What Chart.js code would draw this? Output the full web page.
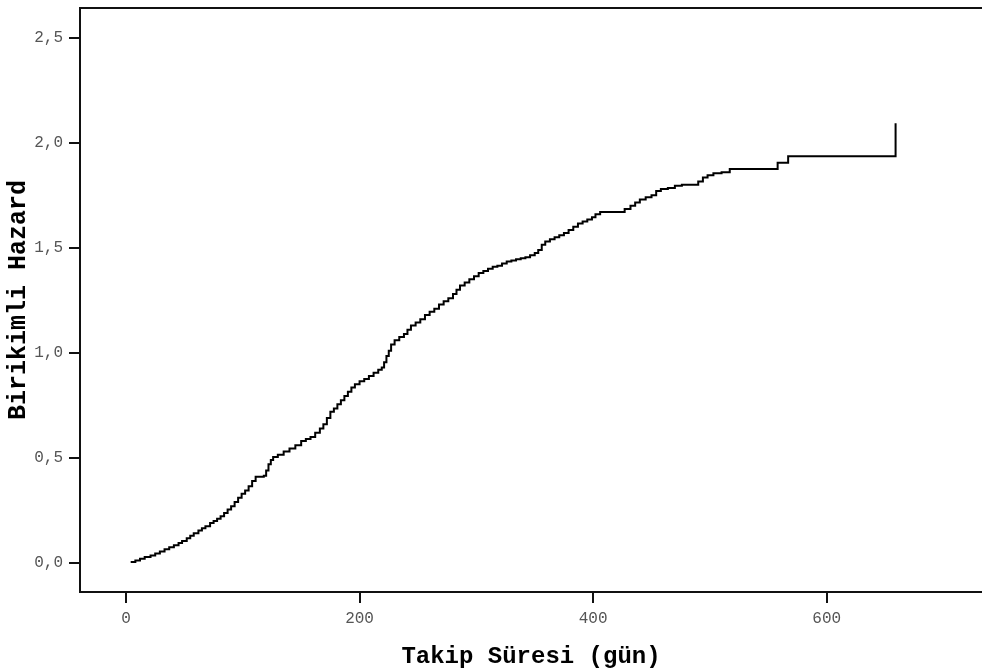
<!DOCTYPE html>
<html>
<head>
<meta charset="utf-8">
<script src="https://cdn.jsdelivr.net/npm/chart.js@4"></script>
<style>
    html, body { margin: 0; padding: 0; background: #fff; }
    #wrap { width: 982px; height: 669px; position: relative; }
</style>
</head>
<body>
<div id="wrap"><canvas id="hazardChart"></canvas></div>
<script>
// Cumulative hazard estimate: event day and hazard value after that day
const days = [
    4, 8, 12, 16, 21, 25, 29, 33, 37, 41, 45, 48, 52, 55, 58, 62, 65, 68, 72, 75,
    78, 81, 84, 87, 90, 93, 96, 99, 102, 105, 108, 111, 118, 120, 122, 124, 126, 130, 135, 140,
    145, 150, 154, 158, 162, 166, 169, 172, 175, 178, 181, 184, 187, 190, 193, 196, 200, 204, 208, 212,
    216, 219, 221, 223, 225, 227, 230, 234, 238, 241, 244, 248, 252, 256, 260, 264, 268, 272, 276, 280,
    283, 286, 290, 294, 298, 302, 306, 310, 314, 318, 322, 326, 330, 334, 338, 342, 346, 350, 353, 356,
    359, 363, 367, 371, 375, 379, 383, 387, 391, 395, 399, 402, 406, 427, 432, 436, 440, 445, 450, 454,
    458, 464, 470, 476, 490, 494, 498, 503, 510, 517, 558, 567, 659
];
const hazard = [
    0.005, 0.012, 0.020, 0.028, 0.036, 0.045, 0.055, 0.066, 0.075, 0.085, 0.095, 0.105, 0.118, 0.130, 0.142, 0.155, 0.165, 0.175, 0.190, 0.200,
    0.210, 0.222, 0.238, 0.255, 0.270, 0.290, 0.310, 0.330, 0.345, 0.365, 0.390, 0.410, 0.415, 0.440, 0.470, 0.490, 0.505, 0.515, 0.530, 0.545,
    0.560, 0.580, 0.590, 0.600, 0.620, 0.640, 0.660, 0.690, 0.720, 0.735, 0.755, 0.775, 0.795, 0.815, 0.835, 0.850, 0.865, 0.875, 0.890, 0.905,
    0.920, 0.930, 0.955, 0.985, 1.010, 1.040, 1.060, 1.075, 1.090, 1.110, 1.130, 1.145, 1.160, 1.180, 1.195, 1.210, 1.230, 1.245, 1.260, 1.280,
    1.300, 1.320, 1.335, 1.350, 1.365, 1.380, 1.390, 1.400, 1.410, 1.415, 1.425, 1.435, 1.440, 1.445, 1.450, 1.455, 1.465, 1.475, 1.490, 1.515,
    1.530, 1.540, 1.550, 1.560, 1.570, 1.585, 1.600, 1.615, 1.625, 1.635, 1.645, 1.660, 1.670, 1.685, 1.700, 1.715, 1.730, 1.740, 1.750, 1.770,
    1.780, 1.785, 1.795, 1.800, 1.815, 1.835, 1.845, 1.855, 1.860, 1.875, 1.905, 1.936, 2.092
];

const xTicks = [0, 200, 400, 600];
const yTicks = [0, 0.5, 1.0, 1.5, 2.0, 2.5];
const xTitle = 'Takip Süresi (gün)';
const yTitle = 'Birikimli Hazard';

const tickFont = { family: "'Liberation Mono', 'DejaVu Sans Mono', monospace", size: 16 };
const titleFont = { family: "'Liberation Mono', 'DejaVu Sans Mono', monospace", size: 24, weight: 'bold', lineHeight: 1 };

// top edge of the plot frame (the axes only draw left and bottom)
const frameTop = {
    id: 'frameTop',
    afterDraw(chart) {
        const { ctx, chartArea } = chart;
        ctx.save();
        ctx.strokeStyle = '#111';
        ctx.lineWidth = 2;
        ctx.beginPath();
        ctx.moveTo(chartArea.left - 1, chartArea.top);
        ctx.lineTo(chartArea.right, chartArea.top);
        ctx.stroke();
        ctx.restore();
    }
};

new Chart(document.getElementById('hazardChart'), {
    type: 'line',
    data: {
        datasets: [{
            data: days.map((d, i) => ({ x: d, y: hazard[i] })),
            stepped: true,
            borderColor: '#000',
            borderWidth: 2,
            pointRadius: 0,
            fill: false
        }]
    },
    options: {
        responsive: true,
        maintainAspectRatio: false,
        animation: false,
        layout: { padding: { top: 8, right: 0, bottom: 0, left: 0 } },
        plugins: {
            legend: { display: false },
            tooltip: { enabled: false }
        },
        scales: {
            x: {
                type: 'linear',
                min: -39.4,
                max: 733,
                afterFit: function(scale) {
                    scale.height = 77;
                    scale.paddingLeft = 0;
                    scale.paddingRight = 0;
                },
                afterBuildTicks: function(scale) { scale.ticks = xTicks.map(v => ({ value: v })); },
                grid: {
                    drawOnChartArea: false,
                    color: '#111',
                    lineWidth: 2,
                    tickLength: 11
                },
                border: { color: '#111', width: 2 },
                ticks: {
                    color: '#555',
                    font: tickFont,
                    padding: 6,
                    maxRotation: 0,
                    callback: function(value) { return String(value); }
                },
                title: {
                    display: true,
                    text: xTitle,
                    color: '#000',
                    font: titleFont,
                    padding: { top: 0, bottom: 0 }
                }
            },
            y: {
                min: -0.138,
                max: 2.641,
                afterFit: function(scale) {
                    scale.width = 80;
                    scale.paddingTop = 0;
                    scale.paddingBottom = 0;
                },
                afterBuildTicks: function(scale) { scale.ticks = yTicks.map(v => ({ value: v })); },
                grid: {
                    drawOnChartArea: false,
                    color: '#111',
                    lineWidth: 2,
                    tickLength: 11
                },
                border: { color: '#111', width: 2 },
                ticks: {
                    color: '#555',
                    font: tickFont,
                    padding: 6,
                    callback: function(value) { return value.toFixed(1).replace('.', ','); }
                },
                title: {
                    display: true,
                    text: yTitle,
                    color: '#000',
                    font: { family: titleFont.family, size: 25, weight: 'bold', lineHeight: 1 },
                    padding: { top: 6, bottom: 0 }
                }
            }
        }
    },
    plugins: [frameTop]
});
</script>
</body>
</html>
